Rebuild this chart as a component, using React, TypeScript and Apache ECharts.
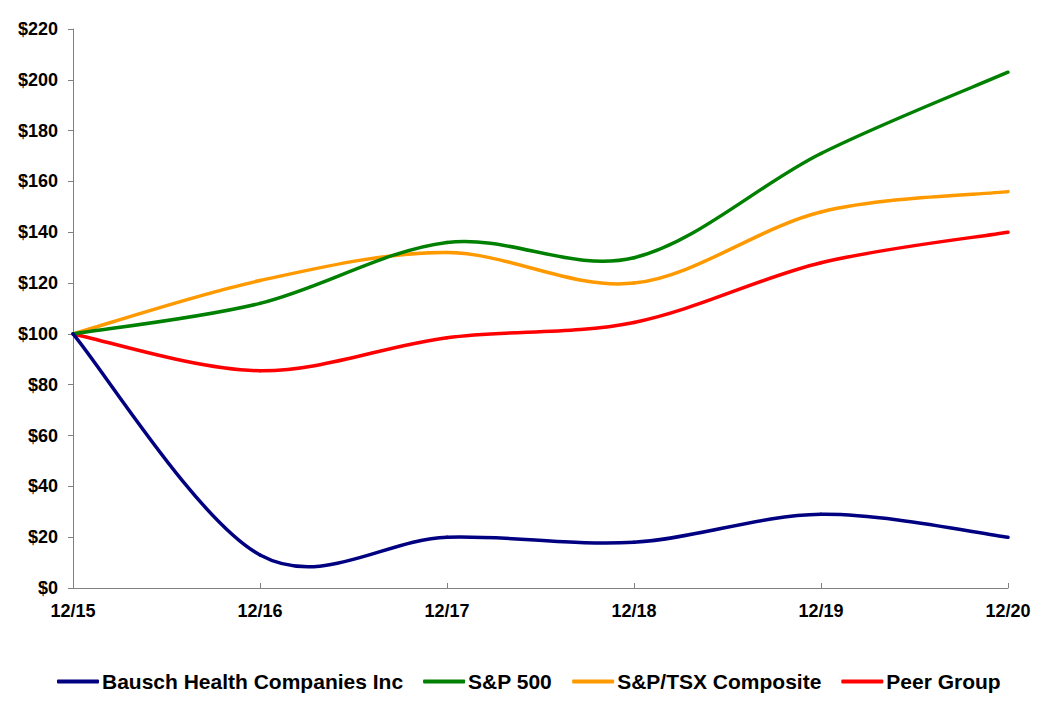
import React, { useEffect, useRef } from "react";
import * as echarts from "echarts";

const categories = ["12/15", "12/16", "12/17", "12/18", "12/19", "12/20"];
const bausch = [100, 13, 20, 18, 29, 20];
const sp500 = [100, 112, 136, 130, 171, 203];
const tsx = [100, 121, 132, 120, 148, 156];
const peer = [100, 85.5, 98.5, 104.5, 128, 140];
const seriesNames = ["Bausch Health Companies Inc", "S&P 500", "S&P/TSX Composite", "Peer Group"];
const colors = ["#000080", "#008000", "#FF9900", "#FF0000"];

function makeRenderItem(arr: number[], color: string) {
  return (params: any, api: any) => {
    const i = params.dataIndex;
    if (i === 0) return null;
    const n = arr.length;
    const p = (k: number) => {
      const j = Math.max(0, Math.min(n - 1, k));
      return api.coord([j, arr[j]]);
    };
    const p0 = p(i - 2);
    const p1 = p(i - 1);
    const p2 = p(i);
    const p3 = p(i + 1);
    const t = 1 / 6;
    const c1x = p1[0] + (p2[0] - p0[0]) * t;
    const c1y = p1[1] + (p2[1] - p0[1]) * t;
    const c2x = p2[0] - (p3[0] - p1[0]) * t;
    const c2y = p2[1] - (p3[1] - p1[1]) * t;
    const d = `M${p1[0]} ${p1[1]} C${c1x} ${c1y} ${c2x} ${c2y} ${p2[0]} ${p2[1]}`;
    return {
      type: "path",
      shape: { pathData: d },
      style: { stroke: color, lineWidth: 3.5, fill: "none", lineCap: "round" },
    };
  };
}

export default function App() {
  const ref = useRef<HTMLDivElement>(null);
  useEffect(() => {
    if (!ref.current) return;
    const chart = echarts.init(ref.current, undefined, { renderer: "svg" });
    const font = "Arial, 'Liberation Sans', sans-serif";
    const datasets = [bausch, sp500, tsx, peer];
    chart.setOption({
      animation: false,
      textStyle: { fontFamily: font },
      grid: { left: 65, right: 29, top: 21, bottom: 127, containLabel: false },
      legend: {
        bottom: 18,
        left: 44,
        icon: "roundRect",
        itemWidth: 42,
        itemHeight: 4,
        itemGap: 20,
        textStyle: { fontFamily: font, fontSize: 21, fontWeight: "bold", color: "#000", padding: [0, 0, 0, -2] },
        data: seriesNames,
      },
      xAxis: {
        type: "category",
        data: categories,
        boundaryGap: false,
        axisLine: { lineStyle: { color: "#808080", width: 1 } },
        axisTick: { inside: true, length: 5, lineStyle: { color: "#808080" } },
        axisLabel: { fontFamily: font, fontSize: 18, fontWeight: "bold", color: "#000", margin: 14 },
        splitLine: { show: false },
      },
      yAxis: {
        type: "value",
        min: 0,
        max: 220,
        interval: 20,
        axisLine: { show: true, lineStyle: { color: "#808080", width: 1 } },
        axisTick: { show: true, length: 5, lineStyle: { color: "#808080" } },
        axisLabel: { fontFamily: font, fontSize: 18, fontWeight: "bold", color: "#000", margin: 15, formatter: "${value}" },
        splitLine: { show: false },
      },
      series: datasets.map((d, i) => ({
        name: seriesNames[i],
        type: "custom",
        data: d.map((v, k) => [k, v]),
        encode: { x: 0, y: 1 },
        renderItem: makeRenderItem(d, colors[i]),
        itemStyle: { color: colors[i] },
        z: 10 - i,
      })),
    });
    return () => chart.dispose();
  }, []);
  return <div ref={ref} style={{ width: 1029, height: 707 }} />;
}
